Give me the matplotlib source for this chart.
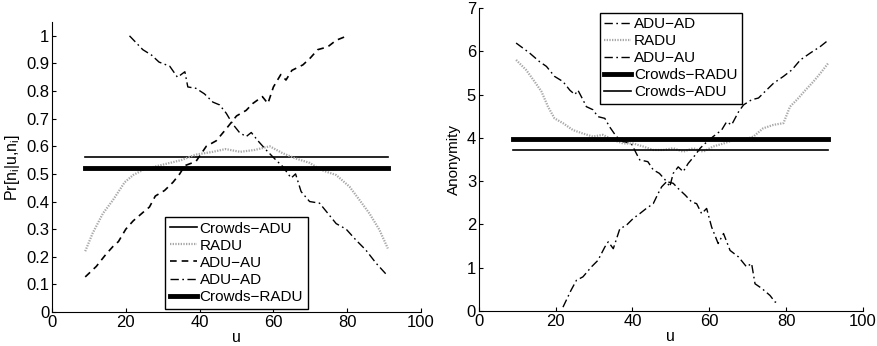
import matplotlib
matplotlib.use("Agg")
import matplotlib.pyplot as plt

plt.rcParams['font.family'] = ['Liberation Sans', 'DejaVu Sans']
plt.rcParams['mathtext.fontset'] = 'custom'
plt.rcParams['mathtext.rm'] = 'Liberation Sans'
plt.rcParams['mathtext.it'] = 'Liberation Sans'

# ---- left panel: probability ----
l_au_x = [9, 12, 14.5, 16.5, 18, 20, 22, 24.6, 26.4, 28, 30.5, 32.8, 34.6, 36, 39, 41.8,
          44.5, 47, 50, 52.6, 54.4, 57, 58.5, 60, 62, 63.4, 65, 68, 70, 72, 74.7, 77, 80]
l_au_y = [0.127, 0.165, 0.207, 0.237, 0.255, 0.30, 0.33, 0.36, 0.38, 0.42, 0.44, 0.47, 0.50,
          0.53, 0.545, 0.60, 0.62, 0.66, 0.71, 0.73, 0.755, 0.78, 0.755, 0.815, 0.86, 0.84,
          0.875, 0.895, 0.92, 0.95, 0.96, 0.984, 1.0]

l_ad_x = [21, 24.6, 27, 29, 31.9, 34, 36, 36.8, 39, 41.3, 43.6, 45.4, 47.2, 49, 50.8, 52.6,
          54, 55.8, 58, 60.7, 62.5, 64.8, 66, 67.5, 69.8, 72.5, 74.7, 77, 79.7, 82.4, 85,
          87.8, 91]
l_ad_y = [1.0, 0.95, 0.93, 0.905, 0.89, 0.85, 0.87, 0.815, 0.81, 0.79, 0.76, 0.75, 0.72,
          0.68, 0.65, 0.635, 0.65, 0.62, 0.587, 0.55, 0.527, 0.485, 0.50, 0.436, 0.40, 0.394,
          0.358, 0.32, 0.30, 0.26, 0.225, 0.177, 0.13]

l_radu_x = [9, 11, 13.8, 16.5, 19.7, 22, 24.6, 28, 32, 35, 39, 43.6, 47, 51, 55, 59, 62.5,
            66, 69.8, 73, 77, 80.6, 83.3, 86, 88.7, 91]
l_radu_y = [0.22, 0.285, 0.357, 0.405, 0.47, 0.496, 0.514, 0.527, 0.54, 0.55, 0.57, 0.58,
            0.59, 0.58, 0.587, 0.60, 0.575, 0.556, 0.54, 0.514, 0.496, 0.454, 0.406, 0.357,
            0.298, 0.23]

l_crowds_adu = 0.56
l_crowds_radu = 0.52

# ---- right panel: anonymity ----
r_ad_x = [9.7, 13.2, 15.8, 17.6, 19.7, 21.9, 23.7, 25, 25.8, 27.1, 28, 29.7, 31, 32.8, 34,
          35.8, 37.6, 39.7, 41, 41.9, 44, 45.4, 47, 48.9, 50.6, 51.9, 53.7, 55.4, 56.7, 58,
          59.3, 60.6, 62.3, 63.7, 65.4, 67.6, 69.7, 71, 71.9, 73.7, 75.8, 77.1, 78]
r_ad_y = [6.19, 5.96, 5.76, 5.65, 5.42, 5.3, 5.1, 5.0, 5.1, 4.88, 4.72, 4.65, 4.49, 4.45,
          4.26, 4.03, 3.91, 3.87, 3.64, 3.49, 3.45, 3.26, 3.18, 2.99, 2.95, 2.83, 2.68, 2.52,
          2.48, 2.25, 2.37, 1.94, 1.56, 1.79, 1.4, 1.25, 1.02, 1.1, 0.63, 0.52, 0.36, 0.21,
          0.19]

r_au_x = [21.9, 24, 25.4, 27.1, 29.3, 31, 32.8, 33.7, 35, 36.7, 38.4, 40.2, 41.9, 43.6, 45.4,
          46.7, 47.6, 48.9, 49.7, 50.6, 51.9, 53.2, 54.5, 56.3, 57.6, 58.9, 61, 63.2, 64.5,
          65.8, 67.6, 68.9, 71, 72.8, 74.5, 76.7, 79.3, 81.5, 83.7, 86.3, 88.9, 90.6]
r_au_y = [0.09, 0.48, 0.71, 0.79, 1.02, 1.17, 1.48, 1.6, 1.44, 1.9, 1.98, 2.14, 2.25, 2.37,
          2.48, 2.72, 2.87, 2.99, 2.87, 3.18, 3.33, 3.22, 3.41, 3.6, 3.76, 3.87, 4.03, 4.18,
          4.37, 4.3, 4.6, 4.76, 4.88, 4.92, 5.07, 5.26, 5.42, 5.57, 5.8, 5.96, 6.11, 6.23]

r_radu_x = [9.7, 12.3, 14.5, 16.3, 18, 19.7, 21.9, 24.5, 27.1, 29.7, 32.3, 35, 37.6, 40.2,
            42.8, 45.4, 48, 50.6, 53.2, 55.8, 58.4, 61, 63.7, 66.3, 68.9, 71.5, 74, 76.7,
            79.3, 81, 82.8, 85, 87.1, 88.9, 91]
r_radu_y = [5.8, 5.57, 5.3, 5.07, 4.72, 4.45, 4.34, 4.18, 4.1, 4.03, 4.07, 3.95, 3.87, 3.87,
            3.8, 3.72, 3.72, 3.76, 3.68, 3.76, 3.68, 3.8, 3.87, 3.95, 3.95, 4.03, 4.22, 4.3,
            4.34, 4.72, 4.88, 5.1, 5.3, 5.49, 5.73]

r_crowds_radu = 3.97
r_crowds_adu = 3.73

u_span = [9, 91]

fig = plt.figure(figsize=(8.77, 3.46), dpi=100)
ax1 = fig.add_axes([0.0593, 0.0983, 0.4208, 0.838])
ax2 = fig.add_axes([0.546, 0.101, 0.438, 0.876])

dash = (0, (4, 3))
dashdot = (0, (6, 2.5, 1.2, 2.5))
dots = (0, (0.6, 0.6))
grey = '#a8a8a8'

leg_kw = dict(fontsize=11, handlelength=1.75, handletextpad=0.2, borderpad=0.3,
              labelspacing=0.2, fancybox=False, framealpha=1, borderaxespad=0)

ax1.plot(u_span, [l_crowds_adu] * 2, color='black', lw=1.2, label='Crowds\u2212ADU')
ax1.plot(l_radu_x, l_radu_y, color=grey, lw=1.6, ls=dots, label='RADU')
ax1.plot(l_au_x, l_au_y, color='black', lw=1.2, ls=dash, label='ADU\u2212AU')
ax1.plot(l_ad_x, l_ad_y, color='black', lw=1.0, ls=dashdot, label='ADU\u2212AD')
ax1.plot(u_span, [l_crowds_radu] * 2, color='black', lw=3.5, label='Crowds\u2212RADU')
ax1.set_ylim(0, 1.05)
ax1.set_yticks([0, 0.1, 0.2, 0.3, 0.4, 0.5, 0.6, 0.7, 0.8, 0.9, 1])
ax1.set_yticklabels(['0', '0.1', '0.2', '0.3', '0.4', '0.5', '0.6', '0.7', '0.8', '0.9', '1'])
ax1.set_ylabel(r'Pr[n$_i$|u,n$_i$]', fontsize=11.5, labelpad=3)
leg1 = ax1.legend(loc='lower center', bbox_to_anchor=(0.5, 0.012), **leg_kw)

ax2.plot(r_ad_x, r_ad_y, color='black', lw=1.0, ls=dashdot, label='ADU\u2212AD')
ax2.plot(r_radu_x, r_radu_y, color=grey, lw=1.6, ls=dots, label='RADU')
ax2.plot(r_au_x, r_au_y, color='black', lw=1.0, ls=dashdot, label='ADU\u2212AU')
ax2.plot(u_span, [r_crowds_radu] * 2, color='black', lw=3.5, label='Crowds\u2212RADU')
ax2.plot(u_span, [r_crowds_adu] * 2, color='black', lw=1.2, label='Crowds\u2212ADU')
ax2.set_ylim(0, 7)
ax2.set_yticks(range(8))
ax2.set_ylabel('Anonymity', fontsize=11, labelpad=4)
leg2 = ax2.legend(loc='upper center', bbox_to_anchor=(0.5, 0.985), **leg_kw)

for ax, leg in ((ax1, leg1), (ax2, leg2)):
    leg.get_frame().set_edgecolor('black')
    leg.get_frame().set_linewidth(1.0)
    ax.set_xlim(0, 100)
    ax.set_xticks(range(0, 101, 20))
    ax.set_xlabel('u', fontsize=11.5, labelpad=0)
    ax.spines['top'].set_visible(False)
    ax.spines['right'].set_visible(False)
    ax.tick_params(direction='in', labelsize=12, length=3, pad=2)

fig.savefig('out.png', dpi=100)
